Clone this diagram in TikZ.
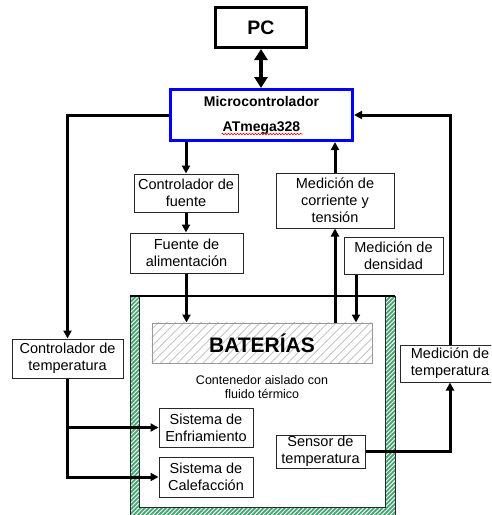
\documentclass[tikz,border=0pt]{standalone}
\usepackage{fontspec}
\setmainfont{Liberation Sans}
\usetikzlibrary{arrows.meta,patterns,patterns.meta,decorations.pathmorphing,calc}
\definecolor{wallgreen}{RGB}{70,165,115}
\definecolor{boxline}{RGB}{40,40,40}
\newcommand\fsreg{\fontsize{14.5}{17}\selectfont}
\newcommand\fssmall{\fontsize{12.5}{14}\selectfont}
\begin{document}
\begin{tikzpicture}[x=1pt,y=-1pt,
  box/.style={draw=boxline, line width=1pt, fill=white, font=\fsreg, align=center, inner sep=0pt},
  conn/.style={line width=3pt, -{Triangle[length=8pt,width=8pt]}},
  line/.style={line width=3pt}
]
\useasboundingbox (0,0) rectangle (491,515);
\clip (0,0) rectangle (491,515);

% container walls
\fill[wallgreen] (130,296) rectangle (395,525);
\fill[pattern={Lines[angle=45,distance=3pt,line width=0.9pt]}, pattern color=white] (130,296) rectangle (395,525);
\draw[boxline, line width=1pt] (130,296) rectangle (395,525);
\fill[white] (139,296) rectangle (385,507);
\draw[boxline, line width=1pt] (139,296) -- (139,507) -- (385,507) -- (385,296);
\draw[black, line width=2pt] (130,296) -- (395,296);

% batteries
\node[draw=gray!80, line width=1pt, fill=white, minimum width=220pt, minimum height=40pt, inner sep=0pt] (batbg) at (262,343) {};
\fill[pattern={Lines[angle=45,distance=6pt,line width=0.9pt]}, pattern color=gray!45] (batbg.north west) rectangle (batbg.south east);
\node[draw=gray!80, line width=1pt, minimum width=220pt, minimum height=40pt, inner sep=0pt, font=\bfseries\fontsize{21}{24}\selectfont] (bat) at (262,343) {BATERÍAS};

\node[font=\fssmall, align=center, inner sep=0pt] (cont) at (262,387) {Contenedor aislado con\\fluido térmico};

% nodes
\node[draw=black, line width=3pt, fill=white, minimum width=91pt, minimum height=40pt, inner sep=0pt, font=\bfseries\fontsize{19.5}{22}\selectfont] (pc) at (261,27.5) {PC};
\node[draw=blue, line width=3pt, fill=white, minimum width=182pt, minimum height=51pt, inner sep=0pt, align=center, font=\bfseries\fontsize{14}{17}\selectfont] (micro) at (261.5,115) {Microcontrolador\\[8pt]ATmega328};
\draw[red, line width=0.6pt, decorate, decoration={snake, segment length=3pt, amplitude=0.8pt}] ([xshift=-40pt,yshift=-19pt]micro.center) -- ([xshift=41pt,yshift=-19pt]micro.center);

\node[box, minimum width=104pt, minimum height=38pt] (cfuente) at (186,193) {Controlador de\\fuente};
\node[box, minimum width=113pt, minimum height=40pt] (fuente) at (186.5,253) {Fuente de\\alimentación};
\node[box, minimum width=118pt, minimum height=55pt] (mcorr) at (335,200.5) {Medición de\\corriente y\\tensión};
\node[box, minimum width=99pt, minimum height=37pt] (mdens) at (393.5,255.5) {Medición de\\densidad};
\node[box, minimum width=111pt, minimum height=39pt] (ctemp) at (67.5,358.5) {Controlador de\\temperatura};
\node[box, minimum width=100pt, minimum height=37pt] (mtemp) at (450,363.5) {Medición de\\temperatura};
\node[box, minimum width=94pt, minimum height=39pt] (enf) at (206,427.5) {Sistema de\\Enfriamiento};
\node[box, minimum width=94pt, minimum height=40pt] (cal) at (206,477) {Sistema de\\Calefacción};
\node[box, minimum width=89pt, minimum height=33pt] (sensor) at (320.5,451.5) {Sensor de\\temperatura};

% connectors
\draw[line width=4pt, {Triangle[length=11pt,width=13pt]}-{Triangle[length=11pt,width=13pt]}] (pc.south) -- (pc.south |- micro.north);
\draw[conn] (micro.west) -| (ctemp.north);
\draw[conn] (mtemp.north) |- (micro.east);
\draw[conn] (cfuente.north |- micro.south) -- (cfuente.north);
\draw[conn] (cfuente.south) -- (cfuente.south |- fuente.north);
\draw[conn] (fuente.south) -- (fuente.south |- bat.north);
\draw[conn] (mcorr.south |- bat.north) -- (mcorr.south);
\draw[conn] (mcorr.north) -- (mcorr.north |- micro.south);
\draw[conn] ([xshift=-37.5pt]mdens.south) -- ([xshift=-37.5pt]mdens.south |- bat.north);
\draw[conn] (ctemp.south) |- (cal.west);
\draw[conn] (ctemp.south |- enf.west) -- (enf.west);
\draw[conn] (sensor.east) -| (mtemp.south);
\end{tikzpicture}
\end{document}
